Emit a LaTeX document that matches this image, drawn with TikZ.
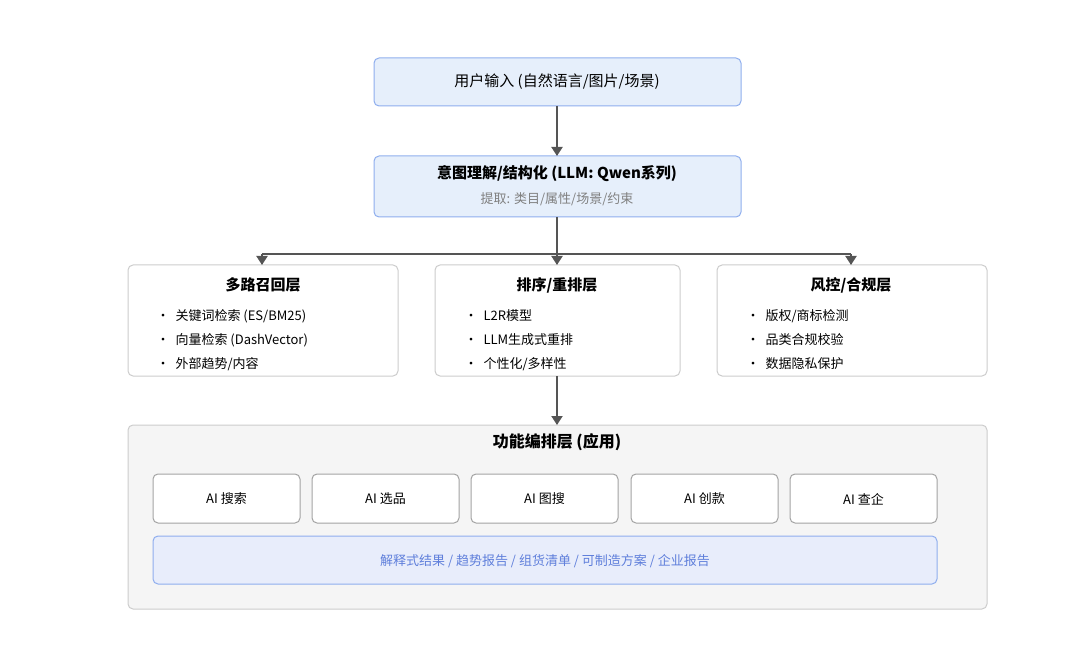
\documentclass[tikz,border=0pt]{standalone}
\usepackage{fontspec}
\setmainfont{Noto Sans CJK SC}
\usetikzlibrary{arrows.meta}
\definecolor{bluefill}{HTML}{E6EFFB}
\definecolor{blueline}{HTML}{8FAEEE}
\definecolor{grayfill}{HTML}{F5F5F5}
\definecolor{grayline}{HTML}{CCCCCC}
\definecolor{outfill}{HTML}{E8EDFB}
\definecolor{outtext}{HTML}{5F7FDB}
\definecolor{arrowc}{HTML}{555555}
\tikzset{
  box/.style={draw=#1, rounded corners=5pt, line width=1pt, inner sep=0pt},
  flow/.style={draw=arrowc, line width=2pt, -{Triangle[length=9pt,width=11pt]}},
  item/.style={anchor=west, font=\fontsize{13pt}{14pt}\selectfont},
}
\begin{document}
\begin{tikzpicture}[x=1pt, y=-1pt]
    \useasboundingbox (0,0) rectangle (1080,655);

    % input and intent
    \filldraw[box=blueline, fill=bluefill] (374,58) rectangle (741,106);
    \node[font=\fontsize{15pt}{16pt}\selectfont] (input) at (557,82) {用户输入 (自然语言/图片/场景)};
    \coordinate (inbot) at (557,106);
    \filldraw[box=blueline, fill=bluefill] (374,156) rectangle (741,217);
    \coordinate (intop) at (557,156);
    \coordinate (intbot) at (557,217);
    \node[font=\bfseries\fontsize{15pt}{16pt}\selectfont] (intent) at (557,174) {意图理解/结构化 (LLM: Qwen系列)};
    \node[font=\fontsize{13pt}{14pt}\selectfont, text=gray] (extract) at (557,199) {提取: 类目/属性/场景/约束};

    \draw[flow] (inbot) -- (intop);

    % three layers
    \filldraw[box=grayline, fill=white] (128,265) rectangle (398,376);
    \filldraw[box=grayline, fill=white] (435,265) rectangle (680,376);
    \filldraw[box=grayline, fill=white] (717,265) rectangle (987,376);
    \coordinate (split) at (557,254);
    \coordinate (l0) at (262,254);
    \coordinate (r0) at (851,254);
    \coordinate (ltop) at (262,265);
    \coordinate (mtop) at (557,265);
    \coordinate (rtop) at (851,265);
    \coordinate (mbot) at (557,376);

    \draw[draw=arrowc, line width=2pt] (intbot) -- (split);
    \draw[draw=arrowc, line width=2pt] (l0) -- (r0);
    \draw[flow] (split) -- (mtop);
    \draw[flow] (l0) -- (ltop);
    \draw[flow] (r0) -- (rtop);

    \node[font=\bfseries\fontsize{15pt}{16pt}\selectfont] (recall) at (263,285) {多路召回层};
    \node[font=\bfseries\fontsize{15pt}{16pt}\selectfont] (rank) at (557,285) {排序/重排层};
    \node[font=\bfseries\fontsize{15pt}{16pt}\selectfont] (risk) at (851,285) {风控/合规层};

    \node[item] (r1) at (153,316) {•\hspace{6pt}关键词检索 (ES/BM25)};
    \node[item] (r2) at (153,340) {•\hspace{6pt}向量检索 (DashVector)};
    \node[item] (r3) at (153,364) {•\hspace{6pt}外部趋势/内容};
    \node[item] (k1) at (461,316) {•\hspace{6pt}L2R模型};
    \node[item] (k2) at (461,340) {•\hspace{6pt}LLM生成式重排};
    \node[item] (k3) at (461,364) {•\hspace{6pt}个性化/多样性};
    \node[item] (c1) at (743,316) {•\hspace{6pt}版权/商标检测};
    \node[item] (c2) at (743,340) {•\hspace{6pt}品类合规校验};
    \node[item] (c3) at (743,364) {•\hspace{6pt}数据隐私保护};

    % application layer
    \filldraw[box=grayline, fill=grayfill] (128,425) rectangle (987,609);
    \coordinate (apptop) at (557,425);
    \draw[flow] (mbot) -- (apptop);
    \node[font=\bfseries\fontsize{16pt}{17pt}\selectfont] (app) at (557,442) {功能编排层 (应用)};

    \foreach \x/\name/\txt in {153/search/AI 搜索, 312/select/AI 选品, 471/image/AI 图搜, 631/create/AI 创款, 790/company/AI 查企} {
        \filldraw[box=grayline!80!black, fill=white] (\x,474) rectangle (\x+147,523);
        \node[font=\fontsize{13pt}{14pt}\selectfont] (\name) at (\x+73.5,499) {\txt};
    }

    \filldraw[box=blueline, fill=outfill] (153,536) rectangle (937,584);
    \node[font=\fontsize{13pt}{14pt}\selectfont, text=outtext] (output) at (545,561) {解释式结果 / 趋势报告 / 组货清单 / 可制造方案 / 企业报告};

\end{tikzpicture}
\end{document}
